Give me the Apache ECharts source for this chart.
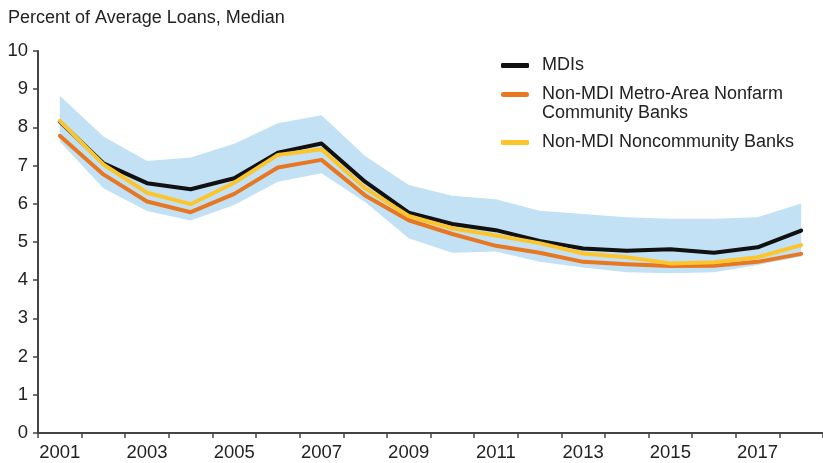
<!DOCTYPE html>
<html>
<head>
<meta charset="utf-8">
<script src="https://cdn.jsdelivr.net/npm/echarts@6/dist/echarts.min.js"></script>
<style>
  html, body { margin: 0; padding: 0; background: #fff; }
  #chart { width: 823px; height: 463px; }
</style>
</head>
<body>
<div id="chart"></div>
<script>
// data
var years = ['2001', '2002', '2003', '2004', '2005', '2006', '2007', '2008', '2009',
  '2010', '2011', '2012', '2013', '2014', '2015', '2016', '2017', '2018']
var mdis = [8.15, 7.06, 6.54, 6.38, 6.67, 7.34, 7.58, 6.58, 5.77, 5.47, 5.31, 5.03, 4.83, 4.77, 4.81, 4.72, 4.86, 5.30]
var metroNonfarm = [7.78, 6.77, 6.06, 5.78, 6.26, 6.95, 7.15, 6.22, 5.57, 5.21, 4.90, 4.72, 4.48, 4.42, 4.37, 4.38, 4.48, 4.69]
var noncommunity = [8.17, 7.03, 6.29, 5.99, 6.55, 7.28, 7.43, 6.41, 5.68, 5.36, 5.17, 4.97, 4.70, 4.60, 4.44, 4.47, 4.60, 4.92]
var bandLow = [7.63, 6.41, 5.81, 5.56, 5.97, 6.58, 6.80, 6.05, 5.10, 4.72, 4.75, 4.48, 4.33, 4.21, 4.18, 4.21, 4.40, 4.62]
var bandHigh = [8.83, 7.76, 7.12, 7.21, 7.57, 8.11, 8.32, 7.25, 6.49, 6.21, 6.12, 5.82, 5.73, 5.65, 5.61, 5.61, 5.65, 6.01]
var yTicks = [0, 10, 1] // min, max, step

var FONT = '"Liberation Sans", Arial, sans-serif'
var bandSpan = bandHigh.map(function (v, i) { return +(v - bandLow[i]).toFixed(2) })

// rounded bar at the top of a taller box, so the icon sits on the first text line
var topBarIcon = 'path://M2.5,0H25.5A2.5,2.5,0,0,1,25.5,5H2.5A2.5,2.5,0,0,1,2.5,0Z M0,24h0.01v0.01h-0.01Z'

var chart = echarts.init(document.getElementById('chart'))

function legendAt (name, top, extra) {
  return Object.assign({
    data: [name],
    left: 496,
    top: top,
    orient: 'vertical',
    itemWidth: 28,
    itemHeight: 5,
    itemGap: 0,
    icon: 'roundRect',
    selectedMode: false,
    textStyle: { fontFamily: FONT, fontSize: 18, color: '#222', lineHeight: 19, padding: [0, 0, 0, 8] }
  }, extra || {})
}

var option = {
  backgroundColor: '#fff',
  animation: false,
  title: {
    text: 'Percent of Average Loans, Median',
    left: 3,
    top: 4,
    textStyle: { fontFamily: FONT, fontSize: 18, fontWeight: 'normal', color: '#222' }
  },
  legend: [
    legendAt('MDIs', 51),
    legendAt('Non-MDI Metro-Area Nonfarm\nCommunity Banks', 80, { icon: topBarIcon, itemHeight: 24 }),
    legendAt('Non-MDI Noncommunity Banks', 128)
  ],
  grid: { left: 38, right: -7, top: 51, bottom: 30 },
  xAxis: {
    type: 'category',
    data: years,
    boundaryGap: true,
    axisLine: { lineStyle: { color: '#444', width: 2 } },
    axisTick: { show: true, interval: 0, length: 5, lineStyle: { color: '#444', width: 1.5 } },
    axisLabel: { interval: 1, fontFamily: FONT, fontSize: 18.5, color: '#222', margin: 10 },
    splitLine: { show: false }
  },
  yAxis: {
    type: 'value',
    min: yTicks[0],
    max: yTicks[1],
    interval: yTicks[2],
    axisLine: { show: true, lineStyle: { color: '#444', width: 2 } },
    axisTick: { show: true, length: 5, lineStyle: { color: '#444', width: 1.5 } },
    axisLabel: { fontFamily: FONT, fontSize: 18.5, color: '#222', margin: 10 },
    splitLine: { show: false }
  },
  series: [
    {
      name: 'bandLow',
      type: 'line',
      stack: 'band',
      data: bandLow,
      symbol: 'none',
      silent: true,
      lineStyle: { opacity: 0 }
    },
    {
      name: 'bandSpan',
      type: 'line',
      stack: 'band',
      data: bandSpan,
      symbol: 'none',
      silent: true,
      lineStyle: { opacity: 0 },
      areaStyle: { color: '#c2e1f4', opacity: 1 }
    },
    {
      name: 'MDIs',
      type: 'line',
      data: mdis,
      symbol: 'none',
      color: '#111111',
      lineStyle: { width: 4, color: '#111111', cap: 'round', join: 'round' }
    },
    {
      name: 'Non-MDI Metro-Area Nonfarm\nCommunity Banks',
      type: 'line',
      data: metroNonfarm,
      symbol: 'none',
      color: '#e87722',
      lineStyle: { width: 4, color: '#e87722', cap: 'round', join: 'round' }
    },
    {
      name: 'Non-MDI Noncommunity Banks',
      type: 'line',
      data: noncommunity,
      symbol: 'none',
      color: '#fcc52e',
      lineStyle: { width: 4, color: '#fcc52e', cap: 'round', join: 'round' }
    }
  ]
}

chart.setOption(option)
</script>
</body>
</html>
